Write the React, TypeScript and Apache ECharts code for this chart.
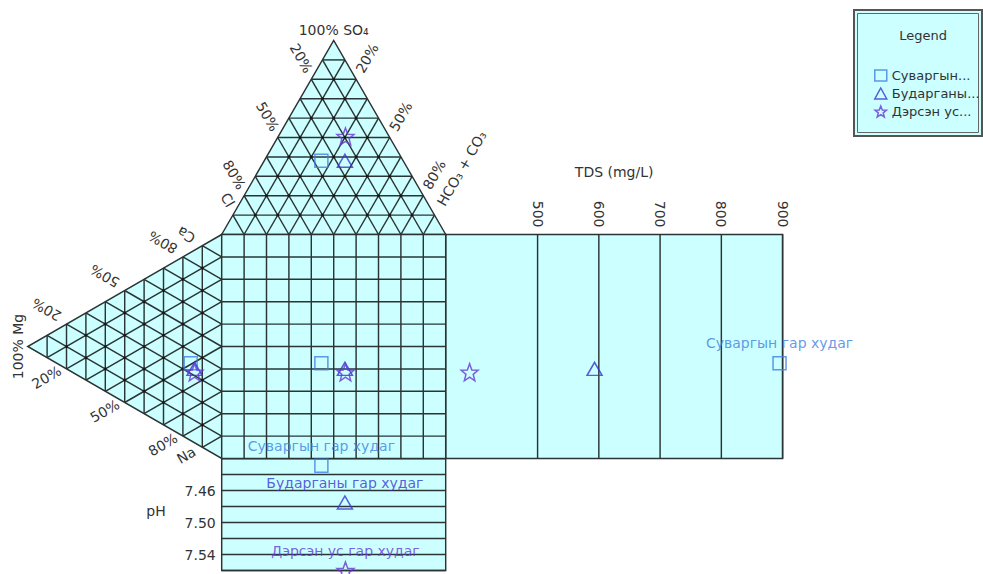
import React, { useEffect, useRef } from "react";
import * as echarts from "echarts";

// ---------- data ----------
const sampleNames = ["Суваргын гар худаг", "Бударганы гар худаг", "Дэрсэн ус гар худаг"];
const legendShort = ["Суваргын...", "Бударганы...", "Дэрсэн ус..."];
// anions (% meq)
const so4 = [38, 38, 50.5];
const hco3 = [25.5, 36, 30];
const cl = [36.5, 26, 19.5];
// cations (% meq)
const mg = [16, 14, 14];
const na = [49.5, 53, 54.5];
const ca = [34.5, 33, 31.5];
// TDS and pH
const tds = [895, 593, 389];
const ph = [7.429, 7.475, 7.56];
const tdsTicks = [500, 600, 700, 800, 900];
const phLabels = [7.46, 7.5, 7.54];
const gridSteps = [10, 20, 30, 40, 50, 60, 70, 80, 90];
const edgeTicks = [20, 50, 80];

// ---------- styling / layout ----------
const FONT = "'DejaVu Sans', sans-serif";
const FILL = "#ccffff";
const LINE = "#2a3434";
const LW = 1.45;
const TXT = "#333333";
const colors = ["#3d80e0", "#3636cf", "#6437d4"];
const STAR = "path://M12,1 L14.9,8.6 L23,9 L16.7,14.1 L18.8,22 L12,17.5 L5.2,22 L7.3,14.1 L1,9 L9.1,8.6 Z";
const symbols = ["rect", "triangle", STAR];
const symbolSizes: any[] = [13, [15, 13], 17];
const H = Math.sqrt(3) / 2;
const PX = 2.24; // px per percent unit
const OX = 221.7;
const OY = 234.5;

// ternary transforms (diagram units, square 0..100)
const topPt = (s: number, h: number) => [h + s / 2, -s * H];
const leftPt = (m: number, n: number) => [-m * H, n + m / 2];
const norm = (a: number, b: number, c: number) => 100 / (a + b + c);

function buildOption() {
  const segs: number[][] = [];
  for (const k of gridSteps) {
    segs.push([...topPt(k, 0), ...topPt(k, 100 - k)]);
    segs.push([...topPt(0, k), ...topPt(100 - k, k)]);
    segs.push([...topPt(0, 100 - k), ...topPt(100 - k, 0)]);
    segs.push([...leftPt(k, 0), ...leftPt(k, 100 - k)]);
    segs.push([...leftPt(0, k), ...leftPt(100 - k, k)]);
    segs.push([...leftPt(0, 100 - k), ...leftPt(100 - k, 0)]);
    segs.push([k, 0, k, 100]);
    segs.push([0, k, 100, k]);
  }
  const dots: number[][] = [];
  for (const a of gridSteps)
    for (const b of gridSteps)
      if (a + b < 100) {
        dots.push(topPt(a, b));
        dots.push(leftPt(a, b));
      }
  const polys = [
    [topPt(0, 0), topPt(0, 100), topPt(100, 0)],
    [leftPt(0, 0), leftPt(100, 0), leftPt(0, 100)],
    [[0, 0], [100, 0], [100, 100], [0, 100]],
  ];

  const labelDefs: any[] = [
    { p: topPt(100, 0), dx: 0, dy: -11, rot: 0, text: "100% SO₄" },
    ...edgeTicks.map((t) => ({ p: topPt(100 - t, 0), dx: -10, dy: -21, rot: -60, text: `${t}%` })),
    { p: topPt(8, 0), dx: -3, dy: -19, rot: -60, text: "Cl" },
    ...edgeTicks.map((t) => ({ p: topPt(100 - t, t), dx: 11, dy: -21, rot: 60, text: `${t}%` })),
    { p: topPt(0, 100), dx: 16, dy: -66, rot: 60, text: "HCO₃ + CO₃" },
    ...edgeTicks.map((t) => ({ p: leftPt(100 - t, 0), dx: -20, dy: -14.5, rot: 150, text: `${t}%` })),
    { p: leftPt(8, 0), dx: -20, dy: -8.5, rot: 150, text: "Ca" },
    ...edgeTicks.map((t) => ({ p: leftPt(100 - t, t), dx: -20, dy: 8.5, rot: 30, text: `${t}%` })),
    { p: leftPt(8, 92), dx: -20, dy: 5.5, rot: 30, text: "Na" },
    { p: leftPt(100, 0), dx: -10, dy: 0, rot: 90, text: "100% Mg" },
  ];

  const lineItem = (params: any, api: any) => {
    const a = api.coord([api.value(0), api.value(1)]);
    const b = api.coord([api.value(2), api.value(3)]);
    return {
      type: "line",
      shape: { x1: a[0], y1: a[1], x2: b[0], y2: b[1] },
      style: { stroke: LINE, lineWidth: LW },
    };
  };

  const series: any[] = [
    {
      type: "custom",
      xAxisIndex: 0,
      yAxisIndex: 0,
      silent: true,
      z: 1,
      data: polys.map((p) => p[0]),
      renderItem: (params: any, api: any) => ({
        type: "polygon",
        shape: { points: polys[params.dataIndex].map((q) => api.coord(q)) },
        style: { fill: FILL, stroke: LINE, lineWidth: LW },
      }),
    },
    { type: "custom", xAxisIndex: 0, yAxisIndex: 0, silent: true, z: 2, data: segs, renderItem: lineItem },
    {
      type: "scatter",
      xAxisIndex: 0,
      yAxisIndex: 0,
      silent: true,
      z: 3,
      symbol: "circle",
      symbolSize: 3,
      itemStyle: { color: "#111" },
      data: dots,
    },
    {
      type: "custom",
      xAxisIndex: 0,
      yAxisIndex: 0,
      silent: true,
      z: 3,
      data: labelDefs.map((d) => d.p),
      renderItem: (params: any, api: any) => {
        const d = labelDefs[params.dataIndex];
        const c = api.coord(d.p);
        return {
          type: "text",
          x: c[0] + d.dx,
          y: c[1] + d.dy,
          rotation: (d.rot * Math.PI) / 180,
          style: {
            text: d.text,
            fill: TXT,
            fontFamily: FONT,
            fontSize: 14,
            align: "center",
            verticalAlign: "middle",
          },
        };
      },
    },
    {
      type: "custom",
      xAxisIndex: 1,
      yAxisIndex: 1,
      silent: true,
      z: 2,
      data: tdsTicks.map((t) => [t, 0, t, 100]),
      renderItem: lineItem,
    },
  ];

  sampleNames.forEach((name, i) => {
    const fa = norm(so4[i], hco3[i], cl[i]);
    const fc = norm(mg[i], na[i], ca[i]);
    const s = so4[i] * fa;
    const h = hco3[i] * fa;
    const m = mg[i] * fc;
    const n = na[i] * fc;
    const sqX = h + s / 2;
    const sqY = n + m / 2;
    const base = {
      type: "scatter",
      name,
      symbol: symbols[i],
      symbolSize: symbolSizes[i],
      clip: false,
      z: 5,
      itemStyle: { color: "rgba(0,0,0,0)", borderColor: colors[i], borderWidth: 1.5 },
    };
    const lbl = {
      show: true,
      formatter: "{a}",
      position: "inside",
      offset: [0, -20],
      color: colors[i],
      fontFamily: FONT,
      fontSize: 14,
    };
    series.push({ ...base, xAxisIndex: 0, yAxisIndex: 0, data: [topPt(s, h), leftPt(m, n), [sqX, sqY]] });
    series.push({ ...base, xAxisIndex: 1, yAxisIndex: 1, data: [[tds[i], sqY]], label: { ...lbl, show: i === 0 } });
    series.push({ ...base, xAxisIndex: 2, yAxisIndex: 2, data: [[sqX, ph[i]]], label: lbl });
  });

  const mainMin = -100 * H;
  return {
    animation: false,
    backgroundColor: "#ffffff",
    textStyle: { fontFamily: FONT },
    grid: [
      { left: OX + mainMin * PX, top: OY + mainMin * PX, width: (100 - mainMin) * PX, height: (100 - mainMin) * PX },
      {
        left: OX + 100 * PX,
        top: OY,
        width: 150.4 * PX,
        height: 100 * PX,
        show: true,
        backgroundColor: FILL,
        borderColor: LINE,
        borderWidth: LW,
      },
      {
        left: OX,
        top: OY + 100 * PX,
        width: 100 * PX,
        height: 112,
        show: true,
        backgroundColor: FILL,
        borderColor: LINE,
        borderWidth: LW,
      },
    ],
    xAxis: [
      { gridIndex: 0, type: "value", min: mainMin, max: 100, show: false },
      {
        gridIndex: 1,
        type: "value",
        position: "top",
        min: 350,
        max: 900,
        name: "TDS (mg/L)",
        nameLocation: "middle",
        nameGap: 56,
        nameTextStyle: { color: TXT, fontFamily: FONT, fontSize: 14 },
        axisLine: { show: false },
        axisTick: { show: false },
        splitLine: { show: false },
        axisLabel: {
          customValues: tdsTicks,
          rotate: -90,
          margin: 7,
          color: TXT,
          fontFamily: FONT,
          fontSize: 14,
        },
      },
      { gridIndex: 2, type: "value", min: 0, max: 100, show: false },
    ],
    yAxis: [
      { gridIndex: 0, type: "value", min: mainMin, max: 100, inverse: true, show: false },
      { gridIndex: 1, type: "value", min: 0, max: 100, inverse: true, show: false },
      {
        gridIndex: 2,
        type: "value",
        min: 7.42,
        max: 7.56,
        interval: 0.02,
        inverse: true,
        axisLine: { show: false },
        axisTick: { show: false },
        splitLine: { show: true, lineStyle: { color: LINE, width: LW } },
        axisLabel: {
          margin: 6,
          color: TXT,
          fontFamily: FONT,
          fontSize: 14,
          formatter: (v: number) => (phLabels.some((t) => Math.abs(t - v) < 1e-6) ? v.toFixed(2) : ""),
        },
      },
    ],
    legend: {
      orient: "vertical",
      left: 869,
      top: 63,
      itemWidth: 12,
      itemHeight: 11,
      itemGap: 3,
      data: sampleNames.map((n, i) => ({
        name: n,
        icon: symbols[i],
        itemStyle: { color: "rgba(0,0,0,0)", borderColor: colors[i], borderWidth: 1.5 },
      })),
      formatter: (n: string) => legendShort[sampleNames.indexOf(n)],
      textStyle: { color: TXT, fontFamily: FONT, fontSize: 13, lineHeight: 15 },
    },
    graphic: [
      {
        type: "rect",
        shape: { x: 854, y: 10, width: 128, height: 126 },
        style: { fill: FILL, stroke: "#555", lineWidth: 2 },
      },
      {
        type: "rect",
        shape: { x: 857.5, y: 13.5, width: 121, height: 119 },
        style: { fill: "none", stroke: "#666", lineWidth: 1 },
      },
      {
        type: "text",
        x: 923,
        y: 35,
        style: { text: "Legend", fill: TXT, fontFamily: FONT, fontSize: 13, align: "center", verticalAlign: "middle" },
      },
      {
        type: "text",
        x: 156,
        y: 511,
        style: { text: "pH", fill: TXT, fontFamily: FONT, fontSize: 14, align: "center", verticalAlign: "middle" },
      },
    ],
    series,
  };
}

export default function App() {
  const ref = useRef<HTMLDivElement>(null);
  useEffect(() => {
    const chart = echarts.init(ref.current!, null, { renderer: "svg" });
    chart.setOption(buildOption() as any);
    return () => chart.dispose();
  }, []);
  return (
    <div
      ref={ref}
      style={{ position: "absolute", left: 0, top: 0, width: 983, height: 574, background: "#ffffff" }}
    />
  );
}
